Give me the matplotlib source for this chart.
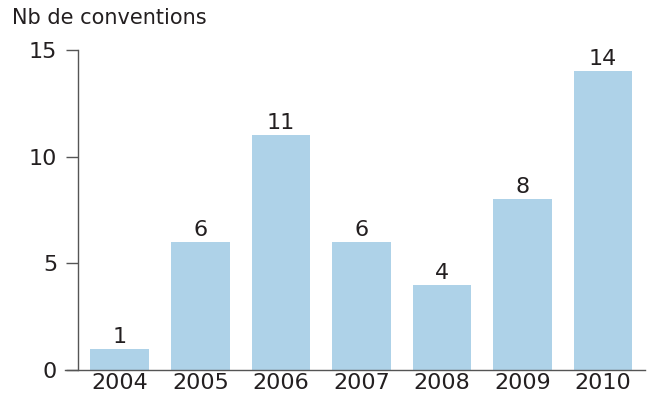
import matplotlib.pyplot as plt

years = ["2004", "2005", "2006", "2007", "2008", "2009", "2010"]
counts = [1, 6, 11, 6, 4, 8, 14]
y_ticks = [0, 5, 10, 15]

BAR_COLOR = "#aed2e8"
TEXT_COLOR = "#231f20"
LINE_COLOR = "#555555"

plt.rcParams["font.family"] = ["DejaVu Sans"]

fig = plt.figure(figsize=(6.53, 4.01), dpi=100)
ax = fig.add_axes([0.1194, 0.0773, 0.8683, 0.798])

x = range(len(years))
bars = ax.bar(x, counts, width=0.73, color=BAR_COLOR, zorder=2)

for xi, v in zip(x, counts):
    ax.text(xi, v + 0.1, str(v), ha="center", va="bottom",
            fontsize=16, color=TEXT_COLOR)

ax.set_xlim(-0.52, 6.52)
ax.set_ylim(0, 15)
ax.set_yticks(y_ticks)
ax.set_xticks(list(x))
ax.set_xticklabels(years)

ax.tick_params(axis="y", direction="out", length=9, width=1, color=LINE_COLOR,
               labelsize=16, labelcolor=TEXT_COLOR, pad=6)
ax.tick_params(axis="x", length=0, labelsize=16, labelcolor=TEXT_COLOR, pad=2)

for side in ["top", "right"]:
    ax.spines[side].set_visible(False)
for side in ["left", "bottom"]:
    ax.spines[side].set_color(LINE_COLOR)
    ax.spines[side].set_linewidth(1)
ax.spines["bottom"].set_bounds(-0.68, 6.52)
ax.spines["bottom"].set_clip_on(False)

fig.text(12 / 653, 1 - 18 / 401, "Nb de conventions", ha="left", va="center",
         fontsize=15, color=TEXT_COLOR)

fig.savefig("out.png", dpi=100)
plt.close(fig)
